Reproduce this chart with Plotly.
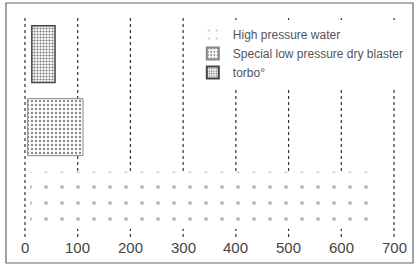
import plotly.graph_objects as go

categories = ["High pressure water", "Special low pressure dry blaster", "torbo°"]
starts = [10, 5, 13]
ends = [660, 110, 57]
tick_vals = [0, 100, 200, 300, 400, 500, 600, 700]
tick_text = ["0", "100", "200", "300", "400", "500", "600", "700"]

styles = [
    dict(fg="#bbb", size=16, sol=0.05, line_w=0, line_c="rgba(0,0,0,0)"),
    dict(fg="#888", size=4, sol=0.28, line_w=1, line_c="#888"),
    dict(fg="#777", size=3, sol=0.4, line_w=1.5, line_c="#444"),
]

fig = go.Figure()
for cat, s, e, st in zip(categories, starts, ends, styles):
    fig.add_trace(go.Bar(
        y=[cat], x=[e - s], base=[s], orientation="h", name=cat,
        width=0.78,
        marker=dict(color="white",
                    line=dict(color=st["line_c"], width=st["line_w"]),
                    pattern=dict(shape=".", fgcolor=st["fg"], bgcolor="white",
                                 size=st["size"], solidity=st["sol"], fillmode="replace")),
    ))

for v in tick_vals:
    fig.add_shape(type="line", xref="x", yref="paper", x0=v, x1=v, y0=0.1, y1=0.95,
                  line=dict(color="#333", width=1.2, dash="dot"), layer="below")

for v, t in zip(tick_vals, tick_text):
    fig.add_annotation(x=v, y=0.058, xref="x", yref="paper", text=t, showarrow=False,
                       xanchor="center", yanchor="middle",
                       font=dict(family="Liberation Sans", size=15, color="#444"))

fig.add_shape(type="rect", xref="paper", yref="paper", x0=0, x1=1, y0=0, y1=1,
              line=dict(color="#666", width=1.2), layer="above")

fig.update_layout(
    width=419, height=269,
    margin=dict(l=6, r=6, t=3, b=6, autoexpand=False),
    paper_bgcolor="white", plot_bgcolor="white",
    barmode="overlay",
    showlegend=True,
    legend=dict(x=0.459, y=0.935, xanchor="left", yanchor="top", traceorder="normal",
                bgcolor="white", font=dict(family="Liberation Sans", size=12, color="#555"),
                itemsizing="constant", tracegroupgap=0),
    font=dict(family="Liberation Sans", color="#444"),
)
fig.update_xaxes(range=[-36, 736], showticklabels=False, ticks="", showgrid=False,
                 zeroline=False, showline=False, automargin=False)
fig.update_yaxes(type="category", categoryorder="array", categoryarray=categories,
                 range=[-0.86, 2.7], showticklabels=False, ticks="", showgrid=False,
                 zeroline=False, showline=False, automargin=False)

fig.write_html("out.html", config={"displayModeBar": False},
               post_script="document.body.style.margin='0';document.body.style.overflow='hidden';")
